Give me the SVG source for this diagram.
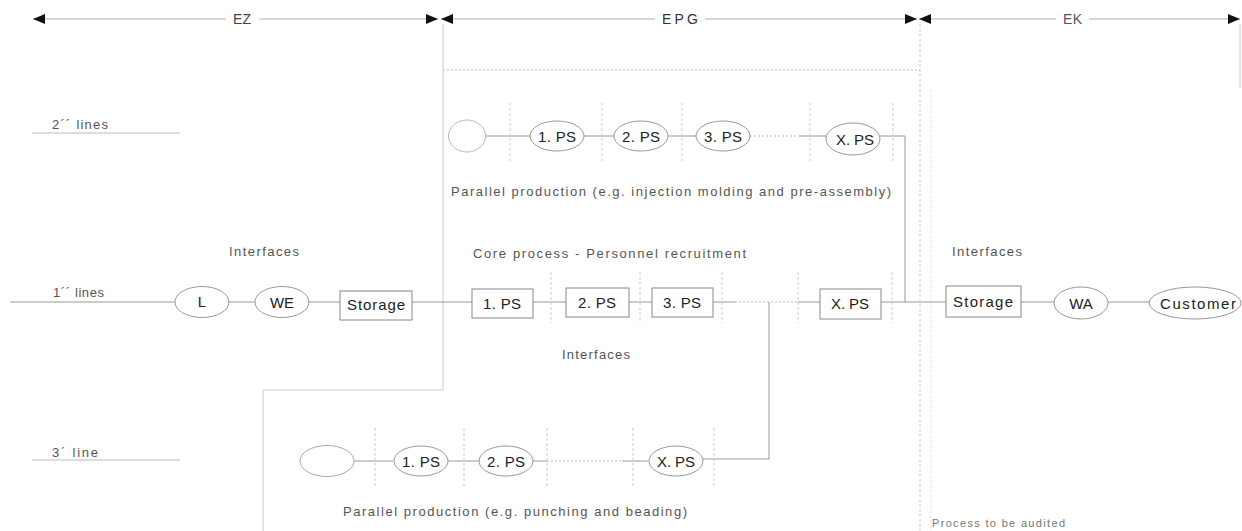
<svg xmlns="http://www.w3.org/2000/svg" width="1242" height="531" viewBox="0 0 1242 531">
<defs>
<marker id="arr" viewBox="0 0 12 10" refX="12" refY="5" markerWidth="12" markerHeight="10" markerUnits="userSpaceOnUse" orient="auto-start-reverse">
<path d="M0,0 L12,5 L0,10 z" fill="#111"/>
</marker>
<style>
.t{font-family:"Liberation Sans",Arial,sans-serif;fill:#555;font-size:13px}
.n{font-family:"Liberation Sans",Arial,sans-serif;fill:#222;font-size:15px;text-anchor:middle}
.box{fill:#fff;stroke:#888;stroke-width:1}
.ell{fill:#fff;stroke:#999;stroke-width:1}
.ln{fill:none;stroke:#999;stroke-width:1}
.dot{fill:none;stroke:#bbb;stroke-width:1;stroke-dasharray:2 2}
.sep{fill:none;stroke:#ccc;stroke-width:1;stroke-dasharray:3 2}
.border{fill:none;stroke:#ccc;stroke-width:1}
.rng{fill:none;stroke:#ccc;stroke-width:1.5}
</style>
</defs>
<rect width="1242" height="531" fill="#fff"/>

<g id="ranges">
<line class="rng" x1="33" y1="19" x2="438" y2="19" marker-start="url(#arr)" marker-end="url(#arr)"/>
<line class="rng" x1="441" y1="19" x2="917" y2="19" marker-start="url(#arr)" marker-end="url(#arr)"/>
<line class="rng" x1="919" y1="19" x2="1240" y2="19" marker-start="url(#arr)" marker-end="url(#arr)"/>
<rect x="226" y="10" width="33" height="18" fill="#fff"/>
<rect x="655" y="10" width="50" height="18" fill="#fff"/>
<rect x="1056" y="10" width="33" height="18" fill="#fff"/>
<text class="t" x="233" y="24" textLength="18" lengthAdjust="spacing" style="fill:#444;font-size:14px">EZ</text>
<text class="t" x="662" y="24" textLength="36" lengthAdjust="spacing" style="fill:#333;font-size:14px">EPG</text>
<text class="t" x="1063" y="24" textLength="19" lengthAdjust="spacing" style="font-size:14px">EK</text>
</g>

<g id="borders">
<polyline class="border" points="443,24 443,390 263,390 263,531"/>
<line class="dot" x1="443" y1="70" x2="920" y2="70"/>
<line class="sep" x1="920" y1="24" x2="920" y2="531"/>
<line class="sep" x1="931" y1="90" x2="931" y2="531" style="stroke:#e4e4e4"/>
<line class="border" x1="1240" y1="24" x2="1240" y2="88"/>
</g>

<g id="line-labels">
<text class="t" x="52" y="129" textLength="56" lengthAdjust="spacing">2´´ lines</text>
<line class="ln" x1="32" y1="133" x2="180" y2="133" style="stroke:#bbb"/>
<text class="t" x="53" y="297" textLength="51" lengthAdjust="spacing">1´´ lines</text>
<text class="t" x="52" y="457" textLength="46" lengthAdjust="spacing">3´ line</text>
<line class="ln" x1="32" y1="460" x2="180" y2="460" style="stroke:#bbb"/>
</g>

<g id="connectors">
<line class="ln" x1="10" y1="302" x2="735" y2="302"/>
<line class="dot" x1="735" y1="302" x2="798" y2="302"/>
<line class="ln" x1="798" y1="302" x2="1240" y2="302"/>
<line class="ln" x1="485" y1="136" x2="530" y2="136"/>
<line class="ln" x1="583" y1="136" x2="614" y2="136"/>
<line class="ln" x1="667" y1="136" x2="697" y2="136"/>
<line class="dot" x1="750" y1="136" x2="800" y2="136"/>
<line class="ln" x1="800" y1="136" x2="826" y2="136"/>
<polyline class="ln" points="880,136 905,136 905,302"/>
<line class="ln" x1="354" y1="461" x2="393" y2="461"/>
<line class="ln" x1="448" y1="461" x2="479" y2="461"/>
<line class="ln" x1="533" y1="461" x2="547" y2="461"/>
<line class="dot" x1="547" y1="461" x2="622" y2="461"/>
<line class="ln" x1="622" y1="461" x2="648" y2="461"/>
<polyline class="ln" points="703,459 769,459 769,302"/>
</g>

<g id="separators">
<line class="sep" x1="510" y1="103" x2="510" y2="162"/>
<line class="sep" x1="602" y1="103" x2="602" y2="162"/>
<line class="sep" x1="682" y1="103" x2="682" y2="162"/>
<line class="sep" x1="810" y1="103" x2="810" y2="162"/>
<line class="sep" x1="893" y1="103" x2="893" y2="162"/>
<line class="sep" x1="551" y1="272" x2="551" y2="323"/>
<line class="sep" x1="640" y1="272" x2="640" y2="323"/>
<line class="sep" x1="722" y1="272" x2="722" y2="323"/>
<line class="sep" x1="798" y1="272" x2="798" y2="323"/>
<line class="sep" x1="892" y1="272" x2="892" y2="323"/>
<line class="sep" x1="375" y1="428" x2="375" y2="487"/>
<line class="sep" x1="464" y1="428" x2="464" y2="487"/>
<line class="sep" x1="547" y1="428" x2="547" y2="487"/>
<line class="sep" x1="633" y1="428" x2="633" y2="487"/>
<line class="sep" x1="714" y1="428" x2="714" y2="487"/>
</g>

<g id="labels">
<text class="t" x="451" y="196" textLength="440" lengthAdjust="spacing">Parallel production (e.g. injection molding and pre-assembly)</text>
<text class="t" x="473" y="258" textLength="273" lengthAdjust="spacing">Core process - Personnel recruitment</text>
<text class="t" x="229" y="256" textLength="70" lengthAdjust="spacing">Interfaces</text>
<text class="t" x="952" y="256" textLength="70" lengthAdjust="spacing">Interfaces</text>
<text class="t" x="562" y="359" textLength="68" lengthAdjust="spacing">Interfaces</text>
<text class="t" x="343" y="516" textLength="344" lengthAdjust="spacing">Parallel production (e.g. punching and beading)</text>
<text class="t" x="932" y="527" textLength="133" lengthAdjust="spacing" style="font-size:11px;fill:#777">Process to be audited</text>
</g>

<g id="n-L"><ellipse class="ell" cx="202" cy="302" rx="27" ry="15.5"/><text class="n" x="202" y="307">L</text></g>
<g id="n-WE"><ellipse class="ell" cx="282" cy="302" rx="27" ry="15.5"/><text class="n" x="282" y="308">WE</text></g>
<g id="n-storage-in"><rect class="box" x="340" y="291" width="72" height="29"/><text class="n" x="376" y="310" textLength="58" lengthAdjust="spacing">Storage</text></g>
<g id="n-core-1"><rect class="box" x="472" y="289" width="61" height="29"/><text class="n" x="502" y="309" textLength="38" lengthAdjust="spacing">1. PS</text></g>
<g id="n-core-2"><rect class="box" x="566" y="288" width="63" height="29"/><text class="n" x="597" y="308" textLength="38" lengthAdjust="spacing">2. PS</text></g>
<g id="n-core-3"><rect class="box" x="652" y="288" width="61" height="29"/><text class="n" x="682" y="308" textLength="38" lengthAdjust="spacing">3. PS</text></g>
<g id="n-core-x"><rect class="box" x="820" y="289" width="61" height="30"/><text class="n" x="850" y="309" textLength="38" lengthAdjust="spacing">X. PS</text></g>
<g id="n-storage-out"><rect class="box" x="946" y="286" width="75" height="31"/><text class="n" x="983" y="307" textLength="60" lengthAdjust="spacing">Storage</text></g>
<g id="n-WA"><ellipse class="ell" cx="1081" cy="303" rx="27" ry="16"/><text class="n" x="1081" y="309">WA</text></g>
<g id="n-customer"><ellipse class="ell" cx="1195" cy="303" rx="46" ry="16"/><text class="n" x="1198" y="309" textLength="76" lengthAdjust="spacing">Customer</text></g>

<g id="u-start"><ellipse class="ell" cx="467" cy="136" rx="18.5" ry="16" style="stroke:#bbb"/></g>
<g id="u-1"><ellipse class="ell" cx="557" cy="136" rx="27" ry="15"/><text class="n" x="557" y="142" textLength="38" lengthAdjust="spacing">1. PS</text></g>
<g id="u-2"><ellipse class="ell" cx="641" cy="136" rx="27" ry="15"/><text class="n" x="641" y="142" textLength="38" lengthAdjust="spacing">2. PS</text></g>
<g id="u-3"><ellipse class="ell" cx="723" cy="136" rx="27" ry="15"/><text class="n" x="723" y="142" textLength="38" lengthAdjust="spacing">3. PS</text></g>
<g id="u-x"><ellipse class="ell" cx="853" cy="139" rx="27" ry="16"/><text class="n" x="855" y="145" textLength="38" lengthAdjust="spacing">X. PS</text></g>

<g id="l-start"><ellipse class="ell" cx="327" cy="461" rx="27" ry="15.5" style="stroke:#aaa"/></g>
<g id="l-1"><ellipse class="ell" cx="421" cy="461" rx="27" ry="15"/><text class="n" x="421" y="467" textLength="38" lengthAdjust="spacing">1. PS</text></g>
<g id="l-2"><ellipse class="ell" cx="506" cy="461" rx="27" ry="15"/><text class="n" x="506" y="467" textLength="38" lengthAdjust="spacing">2. PS</text></g>
<g id="l-x"><ellipse class="ell" cx="676" cy="461" rx="27" ry="15"/><text class="n" x="676" y="467" textLength="38" lengthAdjust="spacing">X. PS</text></g>
</svg>
